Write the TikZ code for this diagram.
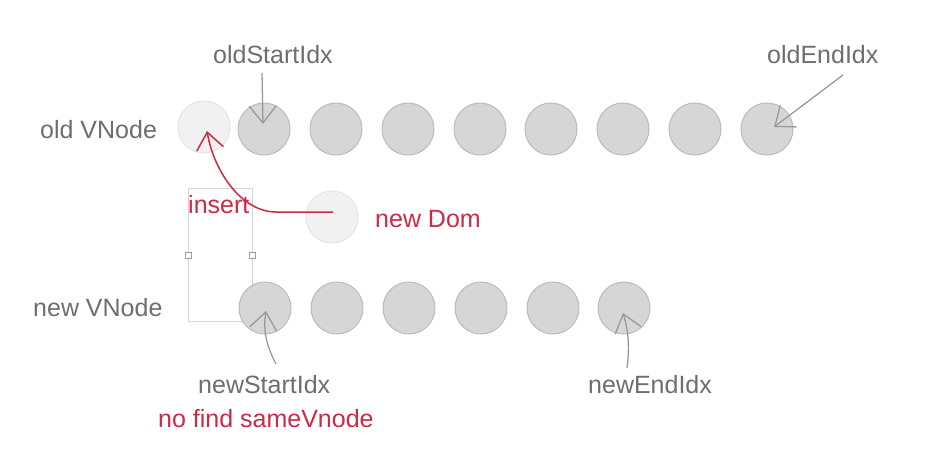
\documentclass[tikz,border=0pt]{standalone}
\usepackage{fontspec}
\setmainfont{Liberation Sans}
\usetikzlibrary{arrows.meta}
\definecolor{cfill}{HTML}{D6D6D6}
\definecolor{cdraw}{HTML}{BBBBBB}
\definecolor{gfill}{HTML}{F1F1F1}
\definecolor{gdraw}{HTML}{E4E4E4}
\definecolor{tgray}{HTML}{6E6E6E}
\definecolor{agray}{HTML}{9A9A9A}
\definecolor{tred}{HTML}{CC2A45}
\definecolor{rgray}{HTML}{D4D4D4}
\tikzset{
  vnode/.style={circle,minimum size=52pt,inner sep=0pt,fill=cfill,draw=cdraw,line width=1pt},
  ghost/.style={circle,minimum size=52pt,inner sep=0pt,fill=gfill,draw=gdraw,line width=1pt},
  lbl/.style={font=\fontsize{25}{30}\selectfont,text=tgray,inner sep=0pt,anchor=base west},
  redlbl/.style={lbl,text=tred},
  ptr/.style={draw=agray,line width=1.3pt,-{Straight Barb[length=17pt,width=27pt]}},
  redptr/.style={draw=tred,line width=1.5pt,-{Straight Barb[length=17pt,width=27pt]}},
  selbox/.style={draw=rgray,line width=0.8pt},
  handle/.style={draw=agray,fill=white,line width=0.6pt,minimum size=6pt,inner sep=0pt}
}
\begin{document}
\begin{tikzpicture}[x=1pt,y=-1pt]
\useasboundingbox[fill=white] (0,0) rectangle (950,458);
% selection rectangle
\draw[selbox] (188,188) rectangle (252,321);
\node[handle] (h1) at (188,255) {};
\node[handle] (h2) at (252,255) {};
% old row
\node[ghost] (o0) at (204,127) {};
\foreach \i/\x in {1/264,2/336,3/408,4/480,5/551,6/623,7/695,8/767}
  \node[vnode] (o\i) at (\x,129) {};
% new row
\foreach \i/\x in {1/265,2/337,3/409,4/481,5/553,6/624}
  \node[vnode] (n\i) at (\x,308) {};
% new dom
\node[ghost] (nd) at (332,217) {};
% labels
\node[lbl] (oldv) at (40,138) {old VNode};
\node[lbl] (newv) at (33,316) {new VNode};
\node[lbl] (osi) at (213,63) {oldStartIdx};
\node[lbl] (oei) at (767,63) {oldEndIdx};
\node[lbl] (nsi) at (198,393) {newStartIdx};
\node[lbl] (nei) at (588,393) {newEndIdx};
\node[redlbl] (ins) at (188,213) {insert};
\node[redlbl] (ndl) at (375,227) {new Dom};
\node[redlbl] (nfs) at (158,427) {no find sameVnode};
% pointer coordinates
\coordinate (osiT) at (262,73);
\coordinate (osiH) at (263,124);
\coordinate (oeiT) at (843,75);
\coordinate (oeiH) at (774,127);
\coordinate (nsiT) at (276,364);
\coordinate (nsiH) at (266,311);
\coordinate (neiT) at (627,368);
\coordinate (neiH) at (623,313);
\coordinate (ndT) at (333,212);
\coordinate (ndB) at (276,212);
\coordinate (insH) at (207,131);
% pointers
\draw[ptr] (osiT) -- (osiH);
\draw[ptr] (oeiT) -- (oeiH);
\draw[ptr] (nsiT) .. controls (266,345) and (263,330) .. (nsiH);
\draw[ptr] (neiT) .. controls (630,345) and (628,330) .. (neiH);
\draw[redptr] (ndT) -- (ndB) .. controls (242,212) and (214,172) .. (insH);
\end{tikzpicture}
\end{document}
